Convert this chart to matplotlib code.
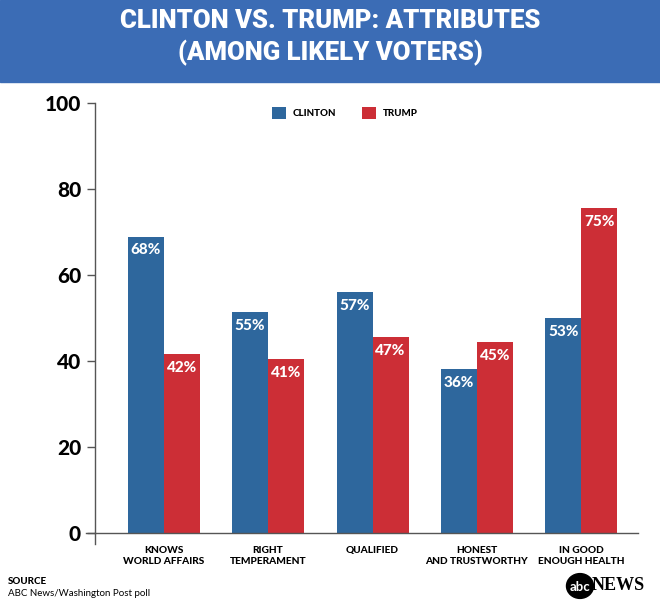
import numpy as np
import matplotlib
matplotlib.use("Agg")
import matplotlib.pyplot as plt
from matplotlib.patches import Rectangle, Circle
from matplotlib.lines import Line2D

# 数据（柱高按图读取，标签按图上文字）
categories = ["KNOWS\nWORLD AFFAIRS", "RIGHT\nTEMPERAMENT", "QUALIFIED",
              "HONEST\nAND TRUSTWORTHY", "IN GOOD\nENOUGH HEALTH"]
clinton_bar = [69.0, 51.5, 56.2, 38.2, 50.0]
trump_bar = [41.7, 40.5, 45.7, 44.4, 75.7]
clinton_label = [68, 55, 57, 36, 53]
trump_label = [42, 41, 47, 45, 75]
y_ticks = [0, 20, 40, 60, 80, 100]

BLUE_BANNER = "#3b6cb5"
CLINTON = "#2e679d"
TRUMP = "#cc2e36"
FONT = ["Lato", "DejaVu Sans"]
HEAVY = ["Roboto", "Lato", "DejaVu Sans"]

plt.rcParams['font.family'] = FONT

W, H = 660, 606
fig = plt.figure(figsize=(W / 100, H / 100), dpi=100)

# 标题横幅
fig.patches.append(Rectangle((0, (H - 82) / H), 1, 82 / H, transform=fig.transFigure,
                             color=BLUE_BANNER, zorder=0))
fig.text(0.5, (H - 21) / H, "CLINTON VS. TRUMP: ATTRIBUTES", ha="center", va="center",
         color="white", fontsize=18.5, fontweight="black", family=HEAVY)
fig.text(0.5, (H - 53) / H, "(AMONG LIKELY VOTERS)", ha="center", va="center",
         color="white", fontsize=18.5, fontweight="black", family=HEAVY)

ax_left, ax_right = 95, 638
ax_bottom, ax_top = 533.3, 103.3
ax = fig.add_axes([ax_left / W, (H - ax_bottom) / H, (ax_right - ax_left) / W,
                   (ax_bottom - ax_top) / H])

px_per_group = 104.4
x0 = (ax_left - 163.7) / px_per_group
x1 = (ax_right - 163.7) / px_per_group
x = np.arange(len(categories))
bw = 36 / px_per_group

ax.bar(x - bw / 2, clinton_bar, bw, color=CLINTON, label="CLINTON")
ax.bar(x + bw / 2, trump_bar, bw, color=TRUMP, label="TRUMP")

for i in range(len(categories)):
    ax.annotate(f"{clinton_label[i]}%", (x[i] - bw / 2, clinton_bar[i]), xytext=(0, -10),
                textcoords="offset points", ha="center", va="center",
                color="white", fontsize=11, fontweight="black", family=FONT)
    ax.annotate(f"{trump_label[i]}%", (x[i] + bw / 2, trump_bar[i]), xytext=(0, -10),
                textcoords="offset points", ha="center", va="center",
                color="white", fontsize=11, fontweight="black", family=FONT)

ax.set_xlim(x0, x1)
ax.set_ylim(0, 100)
ax.set_yticks(y_ticks)
ax.set_yticklabels([str(t) for t in y_ticks], fontsize=15, fontweight="black")
ax.tick_params(axis="y", length=6, width=1, color="#555555", pad=4)
ax.set_xticks(x)
ax.set_xticklabels(categories, fontsize=7.3, fontweight="black", linespacing=1.3)
ax.tick_params(axis="x", length=0, pad=9)

for s in ["top", "right", "bottom"]:
    ax.spines[s].set_visible(False)
ax.spines["left"].set_color("#555555")
ax.spines["left"].set_linewidth(1)

# 0 线向左延伸，y 轴向下延伸
ax_w = ax_right - ax_left
ax_h = ax_bottom - ax_top
ax.add_line(Line2D([-9 / ax_w, 1], [0, 0], transform=ax.transAxes, color="#555555",
                   lw=1, clip_on=False))
ax.add_line(Line2D([0, 0], [0, -11 / ax_h], transform=ax.transAxes, color="#555555",
                   lw=1, clip_on=False))

# 图例
leg = ax.legend(loc="upper left", bbox_to_anchor=((268 - ax_left) / ax_w, 1.0),
                ncol=2, frameon=False, fontsize=7, handlelength=1.45, handleheight=1.45,
                columnspacing=2.6, handletextpad=0.7, borderaxespad=0.0)
for t in leg.get_texts():
    t.set_fontweight("black")

# 来源
fig.text(8 / W, (H - 581) / H, "SOURCE", ha="left", va="center", fontsize=7,
         fontweight="black")
fig.text(8 / W, (H - 593.5) / H, "ABC News/Washington Post poll", ha="left", va="center",
         fontsize=7)

# abc 标志
fig.patches.append(Circle((580 / W, (H - 586) / H), 13.5 / W, transform=fig.transFigure,
                          color="black"))
fig.text(580 / W, (H - 587) / H, "abc", ha="center", va="center", color="white",
         fontsize=9.5, fontweight="bold")
fig.text(592 / W, (H - 586) / H, "NEWS", ha="left", va="center", color="black",
         fontsize=13, fontweight="bold", family=["Liberation Serif", "DejaVu Serif"])

fig.savefig("out.png", dpi=100)
